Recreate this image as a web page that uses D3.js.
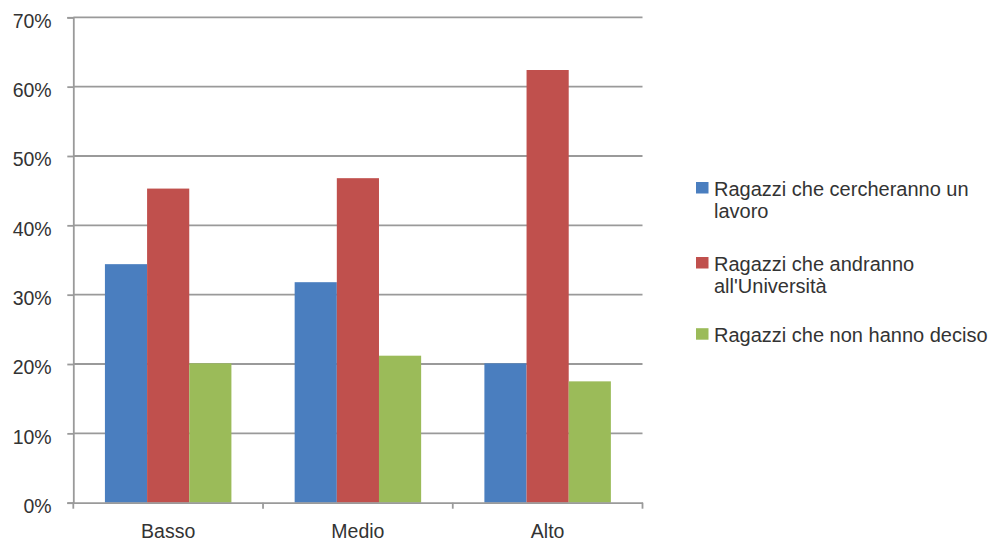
<!DOCTYPE html>
<html>
<head>
<meta charset="utf-8">
<script src="https://cdn.jsdelivr.net/npm/d3@7"></script>
<style>
  html, body { margin: 0; padding: 0; background: #fff; }
  svg { display: block; }
  text { font-family: "Liberation Sans", Arial, sans-serif; fill: #333; }
</style>
</head>
<body>
<svg id="chart" width="994" height="542"></svg>
<script>
const categories = ["Basso", "Medio", "Alto"];
const seriesNames = [
  ["Ragazzi che cercheranno un", "lavoro"],
  ["Ragazzi che andranno", "all'Università"],
  ["Ragazzi che non hanno deciso"]
];
const seriesColors = ["#4a7ebf", "#c0504d", "#9bbb59"];
const lavoro = [34.4, 31.8, 20.1];
const universita = [45.3, 46.8, 62.4];
const indecisi = [20.1, 21.2, 17.5];
const yTicks = [0, 10, 20, 30, 40, 50, 60, 70];

const seriesValues = [lavoro, universita, indecisi];

const svg = d3.select("#chart");
const margin = { left: 73.3, right: 642.5, top: 17.3, bottom: 502.7 };
const axisColor = "#9a9a9a";
const fontFamily = "'Liberation Sans', Arial, sans-serif";
const fontSize = 19.5;

const x = d3.scaleBand().domain(categories).range([margin.left, margin.right]);
const barW = x.bandwidth() / 4.5;
const xs = d3.scaleBand().domain(d3.range(3)).range([0.75 * barW, 3.75 * barW]);
const y = d3.scaleLinear().domain([0, 70]).range([margin.bottom, margin.top]);

// gridlines
svg.append("g")
  .selectAll("line")
  .data(yTicks.filter(d => d > 0))
  .join("line")
  .attr("x1", margin.left).attr("x2", margin.right)
  .attr("y1", d => y(d)).attr("y2", d => y(d))
  .attr("stroke", axisColor).attr("stroke-width", 1.8);

// bars
const groups = svg.append("g").selectAll("g")
  .data(categories)
  .join("g")
  .attr("transform", d => `translate(${x(d)},0)`);

groups.selectAll("rect")
  .data((c, i) => seriesValues.map((s, k) => ({ k, v: s[i] })))
  .join("rect")
  .attr("x", d => xs(d.k))
  .attr("width", xs.bandwidth())
  .attr("y", d => y(d.v))
  .attr("height", d => y(0) - y(d.v))
  .attr("fill", d => seriesColors[d.k]);

// y axis
const yAxis = svg.append("g")
  .attr("transform", `translate(${margin.left},0)`)
  .call(d3.axisLeft(y).tickValues(yTicks).tickFormat(d => d + "%").tickSize(6).tickPadding(15.6));
yAxis.select(".domain").attr("stroke", axisColor).attr("stroke-width", 1.8);
yAxis.selectAll(".tick line").attr("stroke", axisColor).attr("stroke-width", 1.8);
yAxis.selectAll(".tick text").attr("font-size", fontSize).attr("fill", "#333")
  .attr("dy", "0.5em")
  .style("font-family", fontFamily);

// x axis
const xAxis = svg.append("g")
  .attr("transform", `translate(0,${margin.bottom})`)
  .call(d3.axisBottom(x).tickSize(0).tickPadding(21));
xAxis.select(".domain").attr("stroke", axisColor).attr("stroke-width", 1.8);
xAxis.selectAll(".tick text").attr("font-size", fontSize).attr("fill", "#333")
  .style("font-family", fontFamily);
// category boundary ticks
const bounds = [margin.left].concat(categories.map(c => x(c) + x.step()));
svg.append("g").selectAll("line")
  .data(bounds)
  .join("line")
  .attr("x1", d => d).attr("x2", d => d)
  .attr("y1", margin.bottom).attr("y2", margin.bottom + 6)
  .attr("stroke", axisColor).attr("stroke-width", 1.8);

// legend
const legendY = [195.5, 270.5, 341.7];
const lg = svg.append("g").selectAll("g")
  .data(seriesNames)
  .join("g")
  .attr("transform", (d, i) => `translate(696,${legendY[i]})`);
lg.append("rect")
  .attr("x", 0).attr("y", -13.5).attr("width", 12.5).attr("height", 11.5)
  .attr("fill", (d, i) => seriesColors[i]);
lg.append("text")
  .attr("font-size", 20)
  .style("font-family", fontFamily)
  .selectAll("tspan")
  .data(d => d)
  .join("tspan")
  .attr("x", 18)
  .attr("y", (d, j) => j * 22.8)
  .text(d => d);
</script>
</body>
</html>
